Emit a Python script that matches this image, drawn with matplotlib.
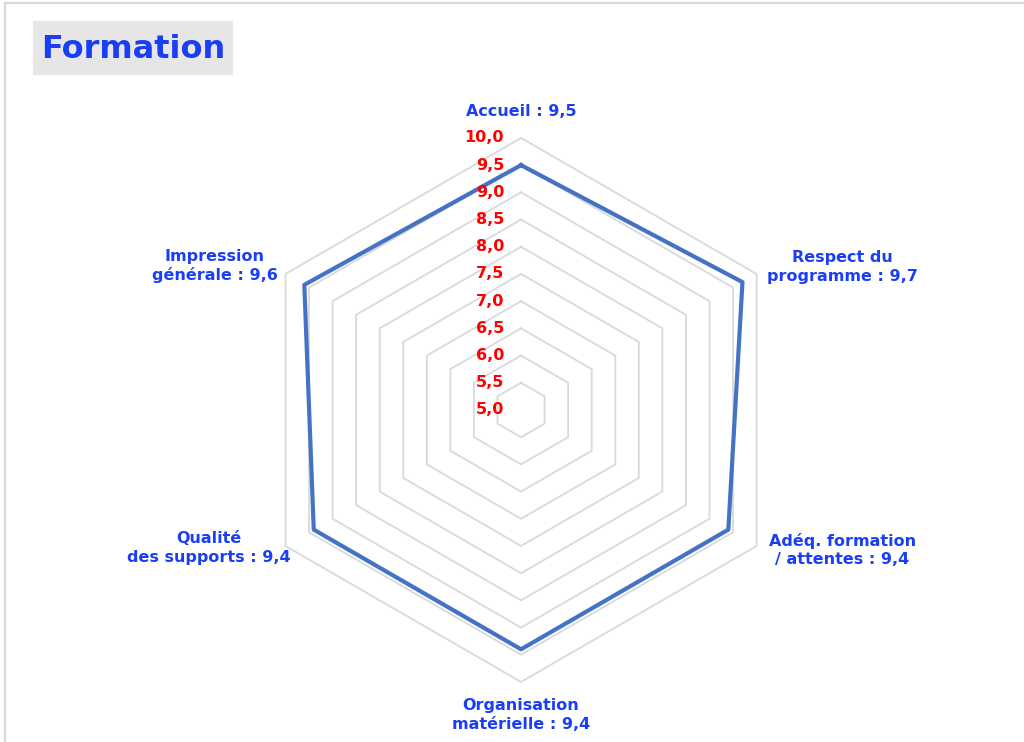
import numpy as np
import matplotlib.pyplot as plt
from matplotlib.patches import Rectangle
from matplotlib.lines import Line2D

categories = ["Accueil", "Respect du\nprogramme", "Adéq. formation\n/ attentes",
              "Organisation\nmatérielle", "Qualité\ndes supports", "Impression\ngénérale"]
scores = [9.5, 9.7, 9.4, 9.4, 9.4, 9.6]
ring_levels = [5.0, 5.5, 6.0, 6.5, 7.0, 7.5, 8.0, 8.5, 9.0, 9.5, 10.0]

BLUE_TXT = "#1a3ef5"
LINE_BLUE = "#4472C4"
GRID = "#D9D9D9"

fig = plt.figure(figsize=(10.24, 7.42), dpi=100)
fig.patch.set_facecolor("white")

# light frame on top / left edge
fig.add_artist(Line2D([0.005, 1.0], [0.996, 0.996], color=GRID, lw=1.6, transform=fig.transFigure))
fig.add_artist(Line2D([0.005, 0.005], [0.0, 0.996], color=GRID, lw=1.6, transform=fig.transFigure))

# title box
fig.add_artist(Rectangle((33 / 1024, 1 - 75 / 742), 200 / 1024, 54 / 742,
                         transform=fig.transFigure, facecolor="#E6E6E6", edgecolor="none"))
fig.text(133 / 1024, 1 - 49 / 742, "Formation", ha="center", va="center",
         fontsize=23, fontweight="bold", color=BLUE_TXT)

# radar axes
ax = fig.add_axes([0.2432, 0.0809, 0.53125, 0.7332], projection="polar")
ax.set_theta_zero_location("N")
ax.set_theta_direction(-1)
ax.set_ylim(5, 10)
ax.grid(False)
ax.spines["polar"].set_visible(False)
ax.set_xticks([])
ax.set_yticks([])
ax.patch.set_alpha(0)

n = len(categories)
angles = np.linspace(0, 2 * np.pi, n, endpoint=False)
closed = np.concatenate([angles, angles[:1]])

for lvl in ring_levels[1:]:
    ax.plot(closed, [lvl] * (n + 1), color=GRID, lw=1.3, zorder=1, clip_on=False)

vals = scores + scores[:1]
ax.plot(closed, vals, color=LINE_BLUE, lw=3, zorder=3, clip_on=False)

# radial tick labels
for lvl in ring_levels:
    ax.annotate(f"{lvl:.1f}".replace(".", ","), xy=(0, lvl), xytext=(-17, 0),
                textcoords="offset pixels", ha="right", va="center",
                fontsize=11.5, fontweight="bold", color="#FF0000", zorder=4,
                annotation_clip=False)

# category labels
offsets = [(0, 26), (86, 7), (86, -4), (0, -33), (-77, -2), (-71, 8)]
for ang, cat, sc, off in zip(angles, categories, scores, offsets):
    label = cat + f" : {sc:.1f}".replace(".", ",")
    ax.annotate(label, xy=(ang, 10), xytext=off, textcoords="offset pixels",
                ha="center", va="center", multialignment="center", linespacing=1.3,
                fontsize=11.5, fontweight="bold", color=BLUE_TXT, annotation_clip=False)

fig.savefig("out.png", dpi=100)
